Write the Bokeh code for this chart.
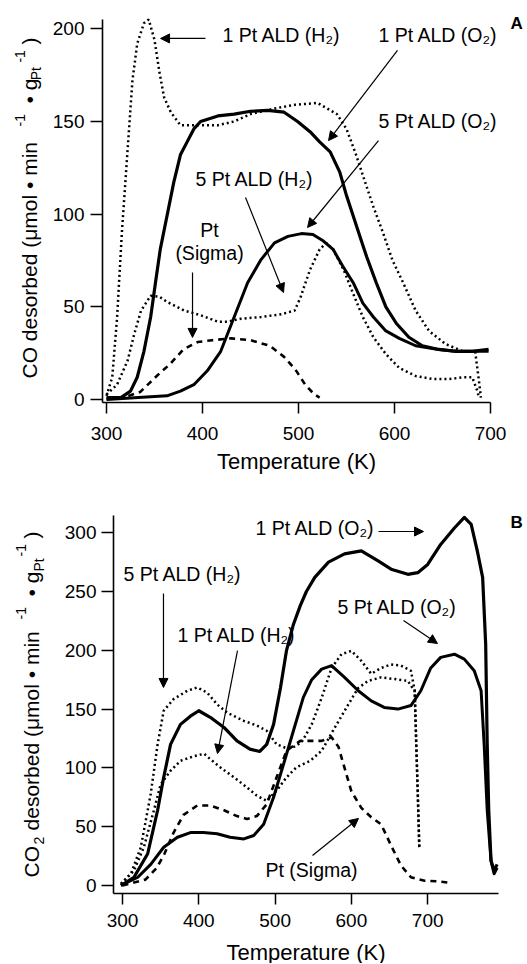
from math import pi
from bokeh.plotting import figure
from bokeh.layouts import column
from bokeh.models import Label, Arrow, NormalHead
from bokeh.embed import file_html
from bokeh.resources import INLINE

FONT = "Liberation Sans"

# ---------------- Panel A: CO desorption ----------------
co_1pt_h2_T = [300, 306, 311, 316, 322, 327, 332, 339, 344, 350, 355, 360, 367, 377, 395, 416, 433, 450, 475, 496,
               520, 540, 550, 560, 567, 578, 588, 598, 609, 622, 636, 653, 671, 684, 688, 690]
co_1pt_h2 = [2, 12, 44, 90, 135, 172, 192, 203, 205, 194, 177, 163, 155, 148, 148, 148, 150, 154, 157, 159,
             160, 154, 146, 132, 121, 104, 90, 75, 63, 48, 37, 30, 26, 26, 10, 1]

co_1pt_o2_T = [300, 315, 325, 332, 339, 346, 351, 356, 363, 370, 377, 384, 391, 398, 416, 433, 450, 468, 485, 499,
               512, 522, 533, 543, 550, 557, 564, 571, 581, 591, 602, 615, 629, 646, 664, 681, 698]
co_1pt_o2 = [1, 1, 4.5, 12, 26, 44.5, 63, 81, 99, 117, 132, 139, 146, 150, 153, 154, 155.5, 156, 155, 150,
             144.5, 139, 133.6, 122.7, 110, 99, 88, 77, 63, 50, 41, 33.6, 29, 27, 26, 26, 27]

co_5pt_o2_T = [300, 329, 363, 377, 391, 405, 419, 433, 447, 461, 475, 489, 503, 515, 526, 536, 546, 557, 567, 578,
               591, 605, 622, 646, 664, 698]
co_5pt_o2 = [0, 1, 2, 4.5, 8, 15.5, 26, 44.5, 63, 75.5, 84.5, 88, 89.5, 89, 85.5, 81, 72, 63, 52, 44.5,
             37, 33, 29, 27, 26, 26]

co_5pt_h2_T = [300, 311, 322, 329, 336, 346, 355, 363, 381, 398, 416, 426, 440, 461, 482, 496, 502, 512, 522, 529,
               536, 547, 557, 567, 578, 591, 605, 622, 640, 657, 671, 681, 686, 688]
co_5pt_h2 = [2.7, 8, 21, 35.5, 48, 56, 55.5, 52.7, 48, 45.5, 42, 42, 43.6, 44.5, 46, 48, 55, 70, 81, 84.5,
             81, 70, 57, 44.5, 33.6, 24.5, 17, 12.7, 11, 11, 12, 12, 5, 1]

co_sigma_T = [300, 320, 335, 345, 355, 366, 380, 395, 410, 430, 450, 470, 485, 497, 507, 516, 522]
co_sigma = [0.5, 1.5, 4, 9, 14, 19, 27, 31, 32, 33, 32, 29, 23, 16, 8, 3, 1]

co_x_ticks = [300, 400, 500, 600, 700]
co_y_ticks = [0, 50, 100, 150, 200]

# ---------------- Panel B: CO2 desorption ----------------
co2_1pt_o2_T = [298, 315, 333, 346, 354, 363, 376, 389, 400, 415, 433, 450, 467, 480, 489, 498, 507, 515, 524, 533,
                541, 552, 570, 591, 613, 635, 652, 674, 687, 700, 717, 735, 748, 757, 765, 772, 776, 778, 780, 783,
                787, 791]
co2_1pt_o2 = [0, 7, 27, 64, 92, 120, 137, 144, 148.6, 143, 134.4, 123, 116, 114, 120, 137, 168, 200, 222, 238,
              250, 262, 275, 282, 284.5, 276, 269, 264.6, 266, 273, 290, 304, 313, 307, 284.5, 262, 205, 120, 64, 21,
              12.7, 18]

co2_5pt_o2_T = [298, 320, 337, 354, 372, 389, 406, 424, 441, 459, 472, 485, 498, 511, 524, 537, 548, 561, 574, 591,
                609, 626, 643, 661, 678, 691, 704, 717, 735, 748, 761, 770, 774, 778, 783, 787, 791]
co2_5pt_o2 = [0, 7, 18, 32.5, 41, 45, 45, 44, 41, 39.6, 42.5, 52, 75, 103, 131.6, 160, 175, 184, 187, 177,
              165.6, 157, 151.4, 150, 153, 165.6, 185, 194, 196.7, 192.5, 182.6, 165.6, 120, 64, 21, 10, 15]

co2_5pt_h2_T = [298, 311, 324, 337, 346, 354, 367, 385, 398, 411, 424, 437, 459, 476, 489, 502, 514, 525, 535, 548,
                561, 574, 587, 600, 613, 626, 639, 652, 665, 678, 683, 685, 687, 689]
co2_5pt_h2 = [1.4, 10, 32.5, 78, 120, 148.6, 158.5, 165.6, 168.4, 164, 154, 147, 140, 136, 131.6, 120, 117, 118,
              122, 137, 159.5, 185, 196.7, 199.5, 191, 180, 185, 188, 187, 182.6, 165.6, 120, 78, 32]

co2_1pt_h2_T = [298, 315, 328, 341, 350, 363, 376, 394, 407, 415, 428, 446, 463, 476, 489, 502, 515, 528, 546, 561,
                578, 596, 609, 622, 639, 657, 674, 683, 685, 687, 689]
co2_1pt_h2 = [1.4, 12.7, 32.5, 63.7, 86, 97.6, 106, 110, 112, 107.5, 100.5, 92, 83.5, 76.4, 72, 80.7, 92, 100.5,
              106, 114.6, 134, 154, 168, 174, 177, 175.5, 174, 165, 120, 78, 32]

co2_sigma_T = [300, 330, 345, 355, 367, 380, 398, 415, 433, 450, 463, 476, 489, 502, 515, 533, 548, 561, 574, 583,
               591, 600, 613, 626, 639, 652, 665, 678, 696, 713, 726]
co2_sigma = [0, 5, 15, 27, 45, 60, 68, 68, 64, 59, 56.6, 59, 69, 92, 114.6, 123, 123, 123, 126, 118,
             100, 80, 66, 58, 52, 34, 17, 7, 4, 3.5, 2.5]

co2_x_ticks = [300, 400, 500, 600, 700]
co2_y_ticks = [0, 50, 100, 150, 200, 250, 300]


def style(p, xt, yt, xb, yb, x_standoff, title_standoff, y_standoff):
    p.xgrid.visible = False
    p.ygrid.visible = False
    p.outline_line_color = None
    p.background_fill_color = "white"
    p.border_fill_color = "white"
    p.xaxis.ticker = xt
    p.yaxis.ticker = yt
    # axes drawn at the data-frame edges; the plotting area spans the whole canvas
    p.xaxis.fixed_location = yb[0]
    p.xaxis.bounds = xb
    p.yaxis.fixed_location = xb[0]
    p.yaxis.bounds = yb
    for ax in (p.xaxis[0], p.yaxis[0]):
        ax.axis_line_width = 1.6
        ax.axis_line_color = "black"
        ax.major_tick_line_width = 1.5
        ax.major_tick_line_color = "black"
        ax.major_tick_in = 0
        ax.minor_tick_in = 0
        ax.minor_tick_out = 0
        ax.major_label_text_font = FONT
        ax.major_label_text_font_size = "19px"
        ax.major_label_text_color = "black"
    p.xaxis.major_tick_out = 11
    p.yaxis.major_tick_out = 12
    p.xaxis.major_label_standoff = x_standoff
    p.yaxis.major_label_standoff = y_standoff
    p.xaxis.axis_label = "Temperature (K)"
    p.xaxis.axis_label_text_font = FONT
    p.xaxis.axis_label_text_font_size = "22px"
    p.xaxis.axis_label_text_font_style = "normal"
    p.xaxis.axis_label_text_color = "black"
    p.xaxis.axis_label_standoff = title_standoff


def txt(p, x, y, text, size="19.5px", angle=0.0, align="left", baseline="middle", fstyle="normal"):
    p.add_layout(Label(x=x, y=y, text=text, angle=angle, text_font=FONT, text_font_size=size,
                       text_align=align, text_baseline=baseline, text_font_style=fstyle,
                       text_color="black"))


def arrow(p, x0, y0, x1, y1):
    p.add_layout(Arrow(end=NormalHead(size=9, fill_color="black", line_color="black", line_width=1),
                       x_start=x0, y_start=y0, x_end=x1, y_end=y1,
                       line_color="black", line_width=1.2))


DOT = "2 3"
DASH = "6 5"
BORDERS = dict(min_border_left=0, min_border_right=0, min_border_top=0, min_border_bottom=0)

# ---------------- figure A ----------------
p1 = figure(width=527, height=474, x_range=(189.58, 738.54), y_range=(-40.46, 215.27),
            output_backend="svg", toolbar_location=None, **BORDERS)
style(p1, co_x_ticks, co_y_ticks, (295.8, 700), (-1.62, 205.0), 13, 6, 6)

p1.line(co_1pt_h2_T, co_1pt_h2, line_color="black", line_width=2.5, line_dash=DOT)
p1.line(co_5pt_h2_T, co_5pt_h2, line_color="black", line_width=2.5, line_dash=DOT)
p1.line(co_1pt_o2_T, co_1pt_o2, line_color="black", line_width=3.2, line_join="round")
p1.line(co_5pt_o2_T, co_5pt_o2, line_color="black", line_width=3.0, line_join="round")
p1.line(co_sigma_T, co_sigma, line_color="black", line_width=2.6, line_dash=DASH)

txt(p1, 420.8, 196.4, "1 Pt ALD (H₂)")
arrow(p1, 403.1, 194.8, 356.3, 194.8)
txt(p1, 583.3, 196.4, "1 Pt ALD (O₂)")
arrow(p1, 603.1, 188.3, 531.3, 139.7)
txt(p1, 583.3, 150.0, "5 Pt ALD (O₂)")
arrow(p1, 583.3, 139.7, 509.4, 92.8)
txt(p1, 392.7, 119.2, "5 Pt ALD (H₂)")
arrow(p1, 444.8, 109.0, 484.4, 57.7)
txt(p1, 407.3, 91.2, "Pt", align="center")
txt(p1, 407.3, 78.8, "(Sigma)", align="center")
arrow(p1, 389.6, 68.5, 389.6, 33.5)
txt(p1, 720.8, 202.9, "A", size="17px", fstyle="bold")

# y-axis title (rotated pieces with super/subscripts)
txt(p1, 219.8, 11.33, "CO desorbed (μmol • min", size="21px", angle=pi / 2, baseline="alphabetic")
txt(p1, 210.4, 147.3, "-1", size="14px", angle=pi / 2, baseline="alphabetic")
txt(p1, 219.8, 159.7, "• g", size="21px", angle=pi / 2, baseline="alphabetic")
txt(p1, 226.1, 172.2, "Pt", size="14px", angle=pi / 2, baseline="alphabetic")
txt(p1, 210.4, 181.8, "-1", size="14px", angle=pi / 2, baseline="alphabetic")
txt(p1, 219.8, 191.5, ")", size="21px", angle=pi / 2, baseline="alphabetic")

# ---------------- figure B ----------------
p2 = figure(width=527, height=489, x_range=(140.10, 830.80), y_range=(-66.33, 349.49),
            output_backend="svg", toolbar_location=None, **BORDERS)
style(p2, co2_x_ticks, co2_y_ticks, (288.2, 792.8), (-6.8, 314.6), 10, 9, 5)

p2.line(co2_5pt_h2_T, co2_5pt_h2, line_color="black", line_width=2.5, line_dash=DOT)
p2.line(co2_1pt_h2_T, co2_1pt_h2, line_color="black", line_width=2.5, line_dash=DOT)
p2.line(co2_1pt_o2_T, co2_1pt_o2, line_color="black", line_width=3.2, line_join="round")
p2.line(co2_5pt_o2_T, co2_5pt_o2, line_color="black", line_width=3.0, line_join="round")
p2.line(co2_sigma_T, co2_sigma, line_color="black", line_width=2.6, line_dash=DASH)

txt(p2, 474.3, 303.6, "1 Pt ALD (O₂)")
arrow(p2, 635.5, 301.0, 694.5, 301.0)
txt(p2, 581.8, 236.4, "5 Pt ALD (O₂)")
arrow(p2, 668.3, 225.3, 712.8, 205.8)
txt(p2, 301.3, 264.5, "5 Pt ALD (H₂)")
arrow(p2, 353.7, 248.3, 353.7, 168.4)
txt(p2, 372.1, 213.4, "1 Pt ALD (H₂)")
arrow(p2, 450.7, 199.8, 424.5, 112.2)
txt(p2, 487.4, 12.8, "Pt (Sigma)")
arrow(p2, 549.0, 25.5, 609.3, 57.0)
txt(p2, 808.5, 308.7, "B", size="17px", fstyle="bold")

txt(p2, 181.0, 6.8, "CO", size="21px", angle=pi / 2, baseline="alphabetic")
txt(p2, 190.2, 34.9, "2", size="14px", angle=pi / 2, baseline="alphabetic")
txt(p2, 181.0, 46.8, "desorbed (μmol • min", size="21px", angle=pi / 2, baseline="alphabetic")
txt(p2, 166.6, 226.2, "-1", size="14px", angle=pi / 2, baseline="alphabetic")
txt(p2, 181.0, 245.7, "• g", size="21px", angle=pi / 2, baseline="alphabetic")
txt(p2, 190.2, 267.0, "Pt", size="14px", angle=pi / 2, baseline="alphabetic")
txt(p2, 166.6, 279.8, "-1", size="14px", angle=pi / 2, baseline="alphabetic")
txt(p2, 181.0, 295.1, ")", size="21px", angle=pi / 2, baseline="alphabetic")

layout = column(p1, p2, spacing=0)
open("out.html", "w").write(file_html(layout, INLINE))
